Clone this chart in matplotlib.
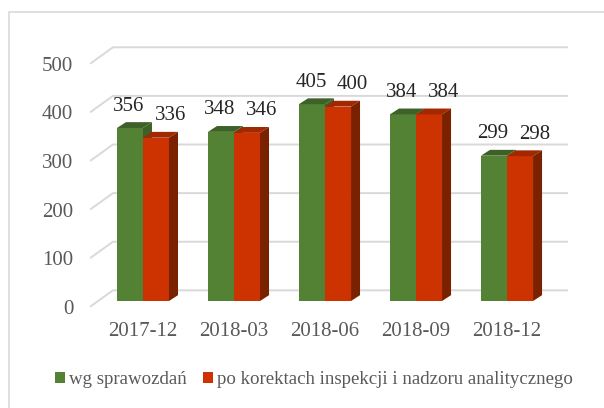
import numpy as np
import matplotlib
matplotlib.use("Agg")
import matplotlib.pyplot as plt
from matplotlib.patches import Polygon, Patch, Rectangle

plt.rcParams['font.family'] = ['Liberation Serif', 'DejaVu Serif']

quarters = ['2017-12', '2018-03', '2018-06', '2018-09', '2018-12']
wg_sprawozdan = [356, 348, 405, 384, 299]
po_korektach = [336, 346, 400, 384, 298]
yticks = [0, 100, 200, 300, 400, 500]
series_names = ['wg sprawozdań', 'po korektach inspekcji i nadzoru analitycznego']

green, green_top = '#548235', '#3e6128'
red, red_top, red_side = '#cc3300', '#a12800', '#7a2100'
grid_c = '#d9d9d9'
txt_c = '#595959'

W, H = 604, 408
fig = plt.figure(figsize=(W / 100, H / 100), dpi=100)

# axes box in pixels: x 90..580, y 30..310
ax = fig.add_axes([90 / W, (H - 310) / H, 490 / W, 280 / H])
ax.set_xlim(-0.582, 4.802)
ax.set_ylim(-18.5, 557.6)
for s in ax.spines.values():
    s.set_visible(False)

# depth of the pseudo-3d boxes (category units / value units)
dx, dy = 0.099, 12.0
front_off, back_off = -12, 22
x_back0, x_back1 = -0.33, 4.67

# floor/wall gridlines
for v in yticks:
    ax.plot([-0.582, x_back0, x_back1], [v + front_off, v + back_off, v + back_off],
            color=grid_c, lw=1.4, zorder=0, solid_capstyle='butt')

x = np.arange(len(quarters))
w = 0.286


def box(left, h, front, top, side, z):
    ax.bar(left + w / 2, h, w, color=front, zorder=z, linewidth=0)
    r = left + w
    ax.add_patch(Polygon([(left, h), (r, h), (r + dx, h + dy), (left + dx, h + dy)],
                         closed=True, facecolor=top, edgecolor='none', zorder=z))
    ax.add_patch(Polygon([(r, 0), (r, h), (r + dx, h + dy), (r + dx, dy)],
                         closed=True, facecolor=side, edgecolor='none', zorder=z))


for i in range(len(quarters)):
    box(x[i] - w, wg_sprawozdan[i], green, green_top, green_top, 2)
    box(x[i], po_korektach[i], red, red_top, red_side, 3)

for i in range(len(quarters)):
    ax.annotate(str(wg_sprawozdan[i]), (x[i] - w / 2, wg_sprawozdan[i]),
                xytext=(-0.7, 15.8), textcoords='offset points',
                ha='center', va='center', fontsize=15, color='#262626', zorder=5)
    ax.annotate(str(po_korektach[i]), (x[i] + w / 2, po_korektach[i]),
                xytext=(10.5, 15.8), textcoords='offset points',
                ha='center', va='center', fontsize=15, color='#262626', zorder=5)

ax.set_yticks(np.array(yticks) + front_off, [str(v) for v in yticks])
ax.set_xticks(x, quarters)
ax.tick_params(axis='both', length=0, labelsize=15, labelcolor=txt_c)
ax.tick_params(axis='y', pad=12)
ax.tick_params(axis='x', pad=9)

handles = [Patch(facecolor=green), Patch(facecolor=red)]
fig.legend(handles, series_names, loc='center', bbox_to_anchor=(314 / W, 1 - 380 / H),
           ncol=2, frameon=False, fontsize=13.6, labelcolor=txt_c,
           handlelength=0.5, handleheight=0.5, handletextpad=0.2, columnspacing=0.9)

# chart area border
fig.patches.append(Rectangle((9 / W, -0.1), 1.1, (H - 12) / H + 0.1,
                             transform=fig.transFigure, fill=False,
                             edgecolor=grid_c, lw=1.2))

fig.savefig('out.png', dpi=100)
